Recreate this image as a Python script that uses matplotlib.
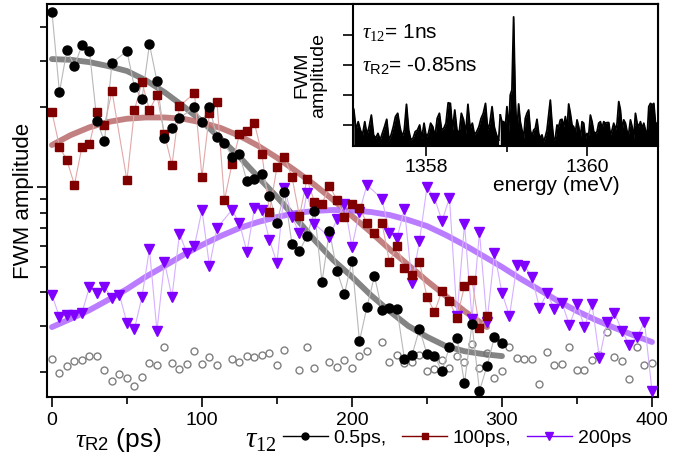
import numpy as np
import matplotlib
matplotlib.use("Agg")
import matplotlib.pyplot as plt
from matplotlib.lines import Line2D
from matplotlib.ticker import FixedLocator, NullFormatter, MultipleLocator

plt.rcParams['font.family'] = ['Liberation Sans', 'DejaVu Sans']
plt.rcParams['mathtext.fontset'] = 'custom'
plt.rcParams['mathtext.rm'] = 'Liberation Sans'
plt.rcParams['mathtext.it'] = 'Liberation Serif:italic'
plt.rcParams['mathtext.sf'] = 'Liberation Serif'
plt.rcParams['mathtext.bf'] = 'Liberation Sans:bold'

# ---------------- data (main panel) ----------------
t_black = list(range(0, 45, 5)) + list(range(50, 90, 5)) + list(range(95, 305, 5))
amp_black = [45.8, 22.8, 32.9, 28.6, 34.3, 32.6, 17.7, 14.9, 29.4,
             32.6, 23.8, 21.5, 34.6, 25.1, 15.3, 16.7, 18.2,
             20.0, 17.6, 20.0, 15.4, 14.7, 13.0, 13.3, 10.5, 10.7, 11.2,
             9.25, 7.31, 9.57, 6.09, 5.73, 6.53, 8.12, 4.38, 6.82, 4.82,
             3.95, 5.26, 2.62, 3.53, 4.61, 3.43, 3.49, 3.46, 2.24, 2.32,
             2.91, 2.34, 2.30, 2.02, 2.49, 2.69, 1.82, 3.04, 1.70, 2.11,
             2.72, 2.58]

t_red = list(range(0, 45, 5)) + list(range(50, 90, 5)) + list(range(95, 295, 5))
amp_red = [19.2, 14.2, 12.6, 10.2, 14.2, 14.5, 19.2, 17.1, 23.0,
           10.6, 19.5, 24.9, 19.5, 22.2, 15.8, 12.1, 20.2,
           22.6, 10.9, 19.0, 20.9, 8.93, 12.2, 15.8, 16.3, 17.4, 13.3,
           8.05, 11.9, 13.0, 10.9, 7.77, 10.7, 8.78, 8.63, 10.1, 8.93,
           7.70, 8.63, 8.33, 7.31, 6.71, 7.31, 5.21, 5.99, 4.95, 4.66,
           5.21, 3.85, 3.38, 4.05, 3.71, 3.20, 4.23, 4.46, 2.94, 3.26]

t_purple = (list(range(0, 115, 5)) + list(range(120, 180, 5))
            + list(range(185, 215, 5)) + list(range(220, 405, 5)))
amp_purple = [3.91, 3.23, 3.29, 3.29, 3.35, 4.19, 3.98, 4.19, 3.81, 3.91,
              3.07, 2.91, 3.85, 5.83, 2.86, 5.21, 3.85, 6.65, 5.64, 5.99,
              8.19, 5.03, 7.00,
              8.19, 7.31, 5.68, 8.33, 8.19, 6.31, 5.17, 9.91, 7.70, 6.71,
              9.49, 7.25,
              6.48, 7.57, 8.63, 5.94, 8.05, 10.2,
              9.01, 6.71, 6.42, 8.26, 4.34, 6.26, 10.0, 9.09, 7.44, 9.09,
              3.26, 7.25, 3.18, 6.76, 3.09, 5.64, 3.98, 3.26, 5.08, 5.03,
              4.58, 3.49, 3.98, 3.46, 3.65, 3.01, 3.62, 2.96, 3.62, 2.26,
              3.09, 3.35, 2.86, 2.53, 2.72, 3.09, 1.70]

t_ref = (list(range(0, 115, 5)) + list(range(120, 160, 5)) + list(range(165, 180, 5))
         + list(range(185, 215, 5)) + list(range(220, 405, 5)))
amp_ref = [2.24, 1.99, 2.11, 2.20, 2.22, 2.30, 2.30, 2.04, 1.85, 1.97,
           1.90, 1.77, 1.92, 2.17, 2.13, 2.49, 2.17, 2.06, 2.15, 2.40,
           2.15, 2.28, 2.13,
           2.24, 2.19, 2.30, 2.28, 2.32, 2.36, 2.13, 2.43,
           2.04, 2.49, 2.07,
           2.19, 2.09, 2.22, 2.07, 2.30, 2.40,
           2.60, 2.19, 2.32, 2.17, 2.19, 2.32, 2.02, 2.06, 2.22, 2.07,
           2.30, 2.19, 2.56, 2.07, 2.36, 1.90, 2.02, 2.49, 2.26, 2.24,
           2.24, 1.81, 2.38, 2.13, 2.15, 2.49, 2.04, 2.04, 2.22, 2.32,
           2.84, 2.28, 2.20, 1.89, 2.49, 2.13, 2.17]

fit_t_black = [0, 12.5, 25, 37.5, 50, 62.5, 75, 87.5, 100, 112.5, 125, 137.5, 150,
               162.5, 175, 187.5, 200, 212.5, 225, 237.5, 250, 262.5, 275, 287.5, 300]
fit_black = [30.4, 30.2, 29.6, 28.6, 27.4, 25.3, 22.8, 20.2, 17.7, 15.2, 13.0, 10.9,
             9.17, 7.64, 6.31, 5.30, 4.58, 3.91, 3.40, 2.99, 2.72, 2.51, 2.40, 2.34, 2.30]
fit_t_red = [0, 12.5, 25, 37.5, 50, 62.5, 75, 87.5, 100, 112.5, 125, 137.5, 150,
             162.5, 175, 187.5, 200, 212.5, 225, 237.5, 250, 262.5, 275, 290]
fit_red = [14.4, 15.7, 16.8, 17.6, 18.1, 18.3, 18.3, 18.1, 17.5, 16.7, 15.6, 14.3,
           12.9, 11.5, 10.2, 8.93, 7.77, 6.76, 5.83, 5.08, 4.42, 3.88, 3.40, 2.96]
fit_t_purple = [0, 12.5, 25, 37.5, 50, 62.5, 75, 87.5, 100, 112.5, 125, 137.5, 150,
                162.5, 175, 187.5, 200, 212.5, 225, 237.5, 250, 262.5, 275, 287.5,
                300, 312.5, 325, 337.5, 350, 362.5, 375, 387.5, 400]
fit_purple = [2.96, 3.18, 3.43, 3.75, 4.12, 4.58, 5.03, 5.54, 6.04, 6.53, 7.00, 7.38,
              7.70, 7.98, 8.12, 8.19, 8.15, 8.05, 7.84, 7.51, 7.12, 6.59, 6.04, 5.49,
              4.99, 4.50, 4.09, 3.71, 3.40, 3.15, 2.94, 2.76, 2.60]

legend_labels = ['0.5ps,', '100ps,', '200ps']

# ---------------- data (inset spectrum) ----------------
spec_seg1 = [0.52, -0.17, 0.11, -0.17, -0.33, 0.11, -0.33, -0.06, 0.33, -0.33,
             -0.44, -0.28, -0.50, -0.28, -0.06, 0.19, -0.50, -0.33, -0.06, 0.28,
             0.39, -0.06, -0.39, -0.17, 0.69, -0.17, -0.50, -0.44, -0.22, -0.17,
             0.00, -0.44, 0.06, -0.39, -0.28, 0.06, -0.06, -0.39, 0.22, 0.39,
             -0.17, -0.11, 0.06, 0.74, 0.72, -0.17, 0.50, -0.17, -0.28, 0.39,
             0.17, -0.28, 0.69, -0.11, 0.06, -0.33, -0.22, -0.06, 0.22, 0.39,
             0.72, -0.17, 0.06, 0.61, -0.06, -0.33, -0.50]
spec_seg2 = [0.33, 0.11, 0.11, -0.06, 0.61, -0.22, 1.00, 1.17, 3.60, 0.83,
             -0.28, 0.70, 0.11, -0.17, -0.44, 0.22, 0.39, 0.50, -0.17, -0.39,
             -0.17, -0.11, 0.19, -0.28, -0.44, -0.33, -0.56, -0.39, -0.17, 0.33,
             0.83, 0.06, -0.50, -0.44, 0.00, -0.06, 0.17, 0.19, -0.06, 0.28,
             -0.17, 0.70, 0.39, 0.00, -0.06, -0.28, 0.17, -0.06, -0.44, 0.11,
             0.06, -0.44, -0.28, -0.33, 0.33, 0.11, -0.22, -0.28, -0.22, 0.06,
             0.11, -0.11, 0.11, 0.06, 0.08, 0.08, -0.33, -0.17, 0.06, -0.17,
             0.06, 0.78, 0.50, -0.17, 0.17, 0.06, -0.22, -0.28, 0.17, -0.06,
             -0.44, 0.39, 0.06, -0.06, 0.11, -0.11, 0.06, -0.17, -0.39, 0.61,
             0.72, 0.67, 0.72, 0.06, 0.06, 0.06]
energy_seg1 = np.linspace(1357.10, 1358.90, len(spec_seg1))
energy_seg2 = np.linspace(1358.92, 1360.89, len(spec_seg2))

# ---------------- figure ----------------
fig = plt.figure(figsize=(6.9, 4.66), dpi=100)
ax = fig.add_axes([47 / 690, 1 - 397 / 466, 611 / 690, 393 / 466])

c_black, c_red, c_purple = 'black', '#800000', '#8000ff'

ax.plot(t_ref, amp_ref, linestyle='none', marker='o', ms=5, mfc='none',
        mec='#808080', mew=1.0, zorder=2)

for ft, fv, fc in ((fit_t_black, fit_black, '#6e6e6e'),
                   (fit_t_red, fit_red, '#b86a6a'),
                   (fit_t_purple, fit_purple, '#b066ff')):
    ax.plot(ft, fv, color=fc, lw=4.2, alpha=0.85,
            solid_capstyle='round', solid_joinstyle='round', zorder=3)

ax.plot(t_purple, amp_purple, color='#d6b0ff', lw=0.8, zorder=4)
ax.plot(t_purple, amp_purple, linestyle='none', marker='v', ms=7.5,
        color=c_purple, zorder=5)
ax.plot(t_red, amp_red, color='#e2a8a8', lw=0.8, zorder=4)
ax.plot(t_red, amp_red, linestyle='none', marker='s', ms=5.2,
        color=c_red, zorder=5)
ax.plot(t_black, amp_black, color='#b8b8b8', lw=0.8, zorder=4)
ax.plot(t_black, amp_black, linestyle='none', marker='o', ms=6.5,
        color=c_black, zorder=6)

ax.set_yscale('log')
ax.set_xlim(-3.3, 404)
ax.set_ylim(1.612, 49.06)
ax.yaxis.set_major_locator(FixedLocator([10]))
ax.yaxis.set_minor_locator(FixedLocator([2, 3, 4, 5, 6, 7, 8, 9, 20, 30, 40]))
ax.yaxis.set_major_formatter(NullFormatter())
ax.yaxis.set_minor_formatter(NullFormatter())
ax.xaxis.set_major_locator(MultipleLocator(100))
ax.xaxis.set_minor_locator(MultipleLocator(50))
ax.tick_params(axis='both', which='major', direction='out', length=7, width=1.2,
               labelsize=14, top=False, right=False)
ax.tick_params(axis='both', which='minor', direction='out', length=5, width=1.2,
               top=False, right=False)
for s in ax.spines.values():
    s.set_linewidth(1.5)
ax.set_ylabel('FWM amplitude', fontsize=16)
ax.yaxis.set_label_coords(-0.021, 0.5)

# axis title and legend at the bottom
fig.text(118 / 690, 1 - 440 / 466, r'$\tau_{\mathrm{R2}}$ (ps)', fontsize=19,
         ha='center', va='center')
fig.text(261 / 690, 1 - 440 / 466, r'$\tau_{\mathsf{12}}$', fontsize=21,
         ha='center', va='center')
handles = [Line2D([], [], color=c_black, lw=1.0, marker='o', ms=5),
           Line2D([], [], color=c_red, lw=1.0, marker='s', ms=4.5),
           Line2D([], [], color=c_purple, lw=1.0, marker='v', ms=6)]
fig.legend(handles, legend_labels, ncol=3, loc='center left',
           bbox_to_anchor=(283 / 690, 1 - 438 / 466), frameon=False,
           fontsize=14, handlelength=2.3, handletextpad=0.3,
           columnspacing=0.8, borderpad=0, borderaxespad=0)

# ---------------- inset ----------------
axi = fig.add_axes([353 / 690, 1 - 146 / 466, 305 / 690, 142 / 466])
axi.set_facecolor('white')
axi.set_zorder(10)
for e, s in ((energy_seg1, spec_seg1), (energy_seg2, spec_seg2)):
    axi.fill_between(e, -0.7, s, color='black', lw=0)
    axi.plot(e, s, color='black', lw=1.3)
axi.plot([energy_seg1[-1], energy_seg2[0]], [spec_seg1[-1], spec_seg2[0]],
         color='black', lw=1.3)
axi.set_xlim(1357.09, 1360.88)
axi.set_ylim(-0.7, 4.03)
axi.xaxis.set_major_locator(FixedLocator([1358, 1360]))
axi.xaxis.set_minor_locator(FixedLocator([1359]))
axi.yaxis.set_major_locator(FixedLocator([0, 1, 2, 3]))
axi.yaxis.set_major_formatter(NullFormatter())
axi.tick_params(axis='both', which='major', direction='out', length=7, width=1.2,
                labelsize=14, pad=2)
axi.tick_params(axis='x', which='minor', direction='out', length=4, width=1.2)
for s in axi.spines.values():
    s.set_linewidth(1.5)
axi.set_xlabel('energy (meV)', fontsize=15, labelpad=0)
axi.xaxis.set_label_coords((556 - 353) / 305, -0.21)
axi.set_ylabel('FWM\namplitude', fontsize=14, linespacing=1.0)
axi.yaxis.set_label_coords(-0.085, 0.5)
axi.text(0.03, 0.80, r'$\tau_{\mathsf{12}}$= 1ns', transform=axi.transAxes, fontsize=15,
         ha='left', va='center')
axi.text(0.03, 0.57, r'$\tau_{\mathrm{R2}}$= -0.85ns', transform=axi.transAxes,
         fontsize=15, ha='left', va='center')

fig.savefig('out.png', dpi=100)
